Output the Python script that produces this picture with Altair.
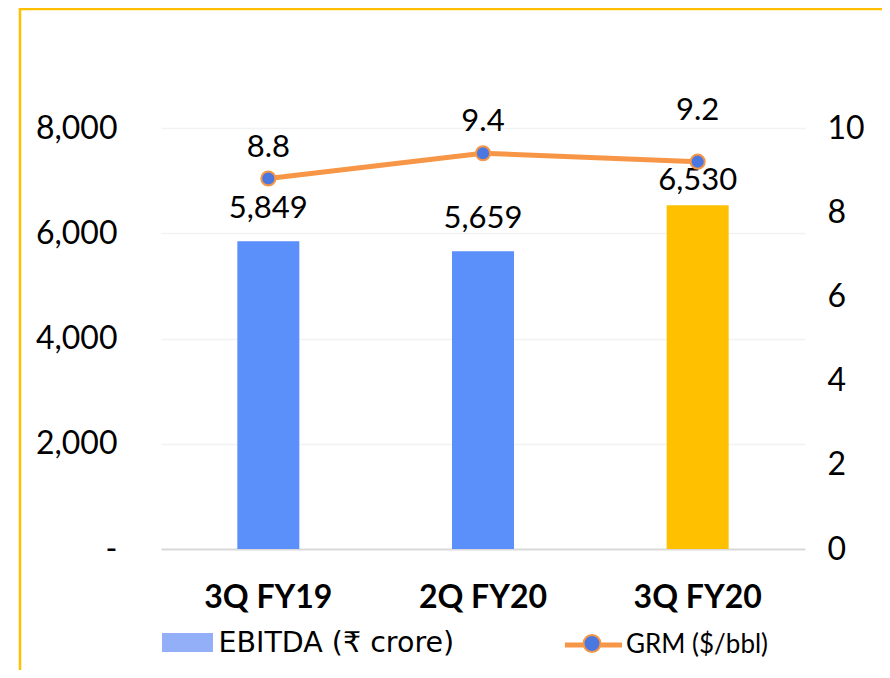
import altair as alt
import pandas as pd

quarters = ["3Q FY19", "2Q FY20", "3Q FY20"]
ebitda = [5849, 5659, 6530]
grm = [8.8, 9.4, 9.2]
ebitda_labels = ["5,849", "5,659", "6,530"]
grm_labels = ["8.8", "9.4", "9.2"]
left_ticks = [0, 2000, 4000, 6000, 8000]
right_ticks = [0, 2, 4, 6, 8, 10]
highlight = "3Q FY20"
series_bar = "EBITDA (₹ crore)"
series_line = "GRM ($/bbl)"

BLUE = "#5B8FF9"
LIGHT_BLUE = "#93AFF7"
GOLD = "#FFC000"
ORANGE = "#F79646"
DOT = "#4A78E0"
FONT = "Lato"

df = pd.DataFrame({
    "q": quarters, "ebitda": ebitda, "grm": grm,
    "el": ebitda_labels, "gl": grm_labels,
    "s1": series_bar, "s2": series_line,
})

base = alt.Chart(df)

x_axis = alt.Axis(title=None, labelAngle=0, labelFont=FONT, labelFontWeight="bold",
                  labelFontSize=32, labelColor="black", labelPadding=33,
                  ticks=False, domain=False, grid=False)
x_enc = alt.X("q:N", sort=quarters, scale=alt.Scale(paddingInner=0, paddingOuter=0), axis=x_axis)

yl_axis = alt.Axis(title=None, values=left_ticks,
                   labelExpr="datum.value == 0 ? '-\u00a0\u00a0\u00a0' : format(datum.value, ',')",
                   labelFont=FONT, labelFontSize=32, labelColor="black", labelPadding=44,
                   ticks=False, domain=False, grid=True,
                   gridColor=alt.condition("datum.value === 0", alt.value("#d9d9d9"), alt.value("#f2f2f2")),
                   gridWidth=alt.condition("datum.value === 0", alt.value(2), alt.value(1.5)))
yl_enc = alt.Y("ebitda:Q", scale=alt.Scale(domain=[0, 8000], nice=False), axis=yl_axis)

yr_axis = alt.Axis(title=None, orient="right", values=right_ticks,
                   labelFont=FONT, labelFontSize=32, labelColor="black", labelPadding=22,
                   ticks=False, domain=False, grid=False)
yr_enc = alt.Y("grm:Q", scale=alt.Scale(domain=[0, 10], nice=False), axis=yr_axis)

bars = base.mark_bar(size=62).encode(
    x=x_enc,
    y=yl_enc,
    color=alt.Color("s1:N", scale=alt.Scale(range=[LIGHT_BLUE]),
                    condition=[{"test": f"datum.q == '{highlight}'", "value": GOLD},
                               {"test": "true", "value": BLUE}],
                    legend=alt.Legend(title=None, orient="none", legendX=9.5, legendY=497.5,
                                      symbolType="M-1.5,-0.56H1.5V0.56H-1.5Z", symbolSize=1156,
                                      symbolStrokeWidth=0, symbolOpacity=1,
                                      labelFont="DejaVu Sans", labelFontSize=28.5, labelColor="black",
                                      labelLimit=500, labelOffset=14, padding=0)),
)

bar_text = base.mark_text(font=FONT, fontSize=31, baseline="alphabetic", dy=-23, color="black").encode(
    x=x_enc, y=yl_enc, text="el:N"
).transform_filter(f"datum.q != '{highlight}'")
bar_text_hi = base.mark_text(font=FONT, fontSize=31, baseline="alphabetic", dy=-15, color="black").encode(
    x=x_enc, y=yl_enc, text="el:N"
).transform_filter(f"datum.q == '{highlight}'")

left = alt.layer(bars, bar_text, bar_text_hi)

line = base.mark_line(strokeWidth=5).encode(
    x=x_enc,
    y=yr_enc,
    stroke=alt.Stroke("s2:N", scale=alt.Scale(range=[ORANGE]),
                      legend=alt.Legend(title=None, orient="none", legendX=413, legendY=497.5,
                                        symbolType="M-1.68,0H1.68", symbolSize=1156,
                                        symbolStrokeWidth=5, symbolStrokeColor=ORANGE,
                                        labelFont=FONT, labelFontSize=26, labelLimit=500,
                                        labelColor="black", labelOffset=13, padding=0)),
)

points = base.mark_point(filled=True, size=200, stroke=ORANGE, strokeWidth=2, shape="circle", opacity=1).encode(
    x=x_enc,
    y=yr_enc,
    fill=alt.Fill("s2:N", scale=alt.Scale(range=[DOT]),
                  legend=alt.Legend(title=None, orient="none", legendX=413, legendY=497.5,
                                    symbolType="M-0.5,0A0.5,0.5,0,1,1,0.5,0A0.5,0.5,0,1,1,-0.5,0Z",
                                    symbolSize=1156, symbolFillColor=DOT, symbolStrokeColor=ORANGE,
                                    symbolStrokeWidth=2, symbolOpacity=1,
                                    labelExpr="''", labelFontSize=26, labelOffset=13,
                                    padding=0, zindex=2)),
)

grm_text = base.mark_text(font=FONT, fontSize=31, baseline="alphabetic", dy=-22, color="black").encode(
    x=x_enc, y=yr_enc, text="gl:N"
).transform_filter(f"datum.q != '{highlight}'")
grm_text_hi = base.mark_text(font=FONT, fontSize=31, baseline="alphabetic", dy=-42, color="black").encode(
    x=x_enc, y=yr_enc, text="gl:N"
).transform_filter(f"datum.q == '{highlight}'")

right = alt.layer(line, points, grm_text, grm_text_hi)

frame = alt.Chart(pd.DataFrame({"f": [0]})).mark_rect(fill="transparent", stroke=GOLD, strokeWidth=2.5).encode(
    x=alt.value(-141), x2=alt.value(900), y=alt.value(-119), y2=alt.value(700)
)

chart = alt.layer(left, right, frame).resolve_scale(
    y="independent", color="independent", fill="independent", stroke="independent"
).properties(
    width=644, height=421,
    background="white",
    autosize=alt.AutoSizeParams(type="none"),
    padding={"left": 153, "top": 120, "right": 77, "bottom": 121},
).configure_view(strokeWidth=0, stroke=None)

chart.save("out.html", embed_options={"renderer": "svg", "actions": False})
